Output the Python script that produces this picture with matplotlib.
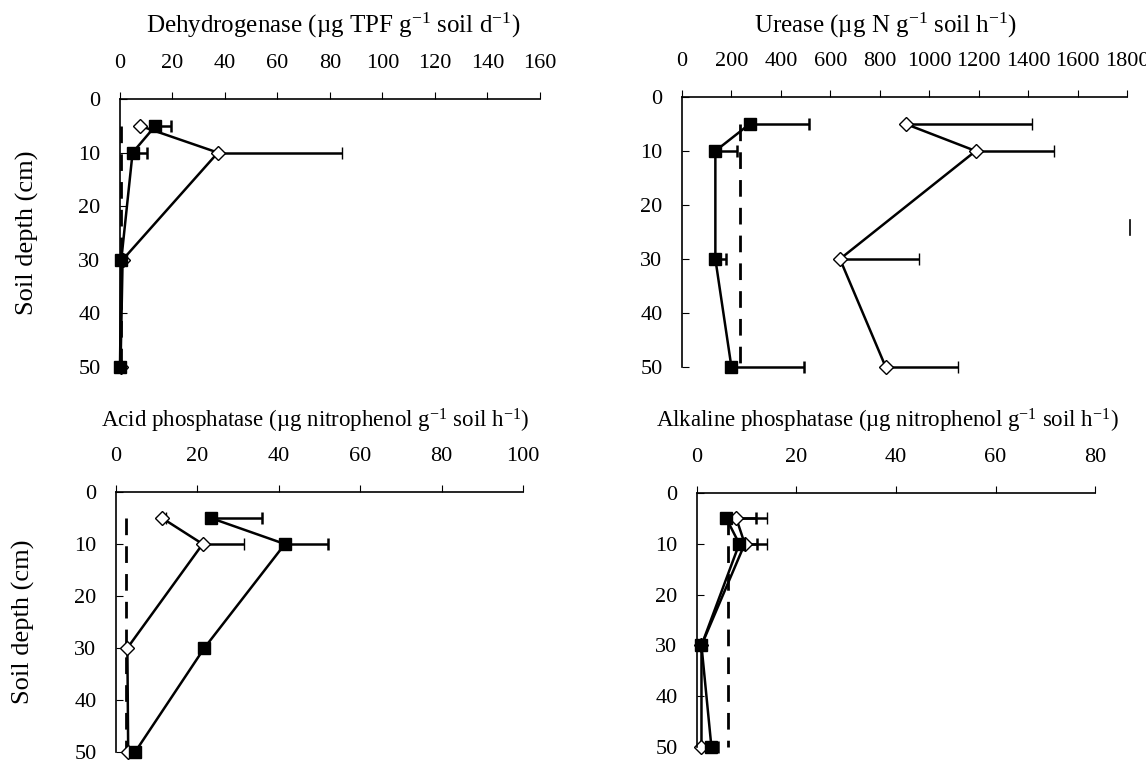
import numpy as np
import matplotlib.pyplot as plt

plt.rcParams['font.family'] = ['Liberation Serif', 'DejaVu Serif']
plt.rcParams['mathtext.fontset'] = 'custom'
plt.rcParams['mathtext.rm'] = 'Liberation Serif'
plt.rcParams['mathtext.it'] = 'Liberation Serif:italic'

depth = [5, 10, 30, 50]

# Dehydrogenase
dh_fill = [13.5, 4.8, 0.5, 0.0]
dh_fill_err = [6.0, 5.4, 0.0, 0.0]
dh_open = [7.6, 37.3, 1.0, 0.2]
dh_open_err = [0.0, 47.2, 0.0, 0.0]
dh_dash = 0.4

# Urease
ur_fill = [274, 135, 135, 200]
ur_fill_err = [240, 88, 42, 293]
ur_open = [905, 1188, 639, 824]
ur_open_err = [510, 315, 320, 291]
ur_dash = 235

# Acid phosphatase
ac_fill = [23.3, 41.5, 21.7, 4.7]
ac_fill_err = [12.5, 10.6, 0.0, 0.0]
ac_open = [11.3, 21.3, 2.8, 3.0]
ac_open_err = [1.0, 10.2, 0.0, 0.0]
ac_dash = 2.5

# Alkaline phosphatase
al_fill = [5.9, 8.5, 0.9, 2.9]
al_fill_err = [6.0, 3.5, 0.0, 1.3]
al_open = [7.9, 9.6, 0.9, 0.9]
al_open_err = [6.1, 4.4, 0.0, 0.0]
al_dash = 6.2

titles = [
    r'Dehydrogenase (µg TPF g$^{\mathregular{-1}}$ soil d$^{\mathregular{-1}}$)',
    r'Urease (µg N g$^{\mathregular{-1}}$ soil h$^{\mathregular{-1}}$)',
    r'Acid phosphatase (µg nitrophenol g$^{\mathregular{-1}}$ soil h$^{\mathregular{-1}}$)',
    r'Alkaline phosphatase (µg nitrophenol g$^{\mathregular{-1}}$ soil h$^{\mathregular{-1}}$)',
]

panels = [
    (dh_fill, dh_fill_err, dh_open, dh_open_err, dh_dash, [0, 160], np.arange(0, 161, 20),
     [0.1047, 0.5171, 0.3665, 0.3526], (333, 25, 18)),
    (ur_fill, ur_fill_err, ur_open, ur_open_err, ur_dash, [0, 1800], np.arange(0, 1801, 200),
     [0.5951, 0.5171, 0.3883, 0.3553], (886, 25, 18)),
    (ac_fill, ac_fill_err, ac_open, ac_open_err, ac_dash, [0, 100], np.arange(0, 101, 20),
     [0.1012, 0.0105, 0.3552, 0.3421], (315, 421, 16.5)),
    (al_fill, al_fill_err, al_open, al_open_err, al_dash, [0, 80], np.arange(0, 81, 20),
     [0.6082, 0.0171, 0.3473, 0.3342], (887, 421, 16.5)),
]

W, H = 1146, 760
fig = plt.figure(figsize=(W / 100, H / 100), dpi=100)

for i, (fv, fe, ov, oe, dash, xlim, xt, pos, tpos) in enumerate(panels):
    ax = fig.add_axes(pos)
    ax.plot([dash, dash], [5, 50], color='black', lw=2, dashes=(6, 4), clip_on=False)
    ax.errorbar(ov, depth, xerr=[np.zeros(4), oe], color='black', lw=1.8, marker='D', ms=7,
                mfc='white', mec='black', mew=1, capsize=4, capthick=1.8, elinewidth=1.8, clip_on=False)
    ax.errorbar(fv, depth, xerr=[np.zeros(4), fe], color='black', lw=1.8, marker='s', ms=8,
                mfc='black', mec='black', capsize=4, capthick=1.8, elinewidth=1.8, clip_on=False)
    ax.set_xlim(xlim)
    ax.set_ylim(50, 0)
    ax.set_xticks(xt)
    ax.set_yticks([0, 10, 20, 30, 40, 50])
    ax.xaxis.tick_top()
    ax.spines['right'].set_visible(False)
    ax.spines['bottom'].set_visible(False)
    ax.spines['top'].set_linewidth(1.2)
    ax.spines['left'].set_linewidth(1.2)
    ax.tick_params(axis='x', direction='out', length=5, pad=14, labelsize=16)
    ax.tick_params(axis='y', direction='in', length=5, pad=14, labelsize=16)
    fig.text(tpos[0] / W, 1 - tpos[1] / H, titles[i], fontsize=tpos[2], ha='center', va='center')
    if i % 2 == 0:
        ax.set_ylabel('Soil depth (cm)', fontsize=19, labelpad=28)

# stray mark in the urease panel
fig.axes[1].plot([1811, 1811], [22.8, 25.6], color='black', lw=1.2, clip_on=False)

fig.savefig('out.png', dpi=100)
